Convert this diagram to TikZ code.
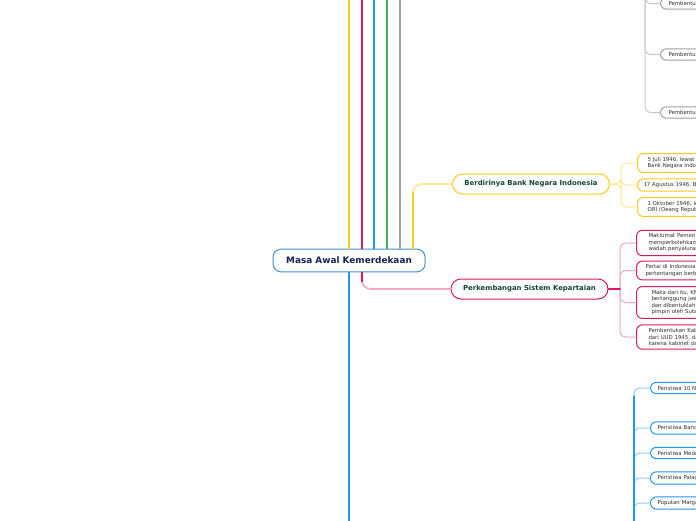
\documentclass[tikz,border=0pt]{standalone}
\usepackage{fontspec}
\setmainfont{DejaVu Sans}
\usetikzlibrary{positioning}
\definecolor{yellowC}{RGB}{250,204,20}
\definecolor{yellowL}{RGB}{253,232,150}
\definecolor{crimsonC}{RGB}{216,27,96}
\definecolor{pinkL}{RGB}{244,166,194}
\definecolor{blueC}{RGB}{33,150,243}
\definecolor{blueL}{RGB}{150,204,245}
\definecolor{greenC}{RGB}{76,175,80}
\definecolor{grayC}{RGB}{158,158,158}
\definecolor{grayL}{RGB}{200,200,200}
\definecolor{mainblue}{RGB}{66,145,210}
\definecolor{navytext}{RGB}{20,35,80}
\definecolor{greentext}{RGB}{20,70,50}
\definecolor{leaftext}{RGB}{50,50,50}
\tikzset{
	mainbox/.style={draw=mainblue, line width=1pt, rounded corners=8pt, fill=white, minimum width=152pt, minimum height=22.7pt, font=\fontsize{8.9}{10}\selectfont\bfseries, text=navytext},
	topicbox/.style={draw=#1, line width=1pt, rounded corners=10pt, fill=white, minimum width=157pt, minimum height=20pt, font=\fontsize{6.9}{8}\selectfont\bfseries, text=greentext},
	leafbox/.style={draw=#1, line width=1pt, rounded corners=6pt, fill=white, anchor=west, text width=110pt, align=left, inner xsep=9pt, inner ysep=3.6pt, font=\fontsize{5.4}{6.5}\selectfont, text=leaftext},
	trunk/.style={draw=#1, line width=1.8pt},
	twig/.style={draw=#1, line width=1pt, rounded corners=6pt}
}
\begin{document}
\begin{tikzpicture}[x=1pt, y=-1pt, line join=round, line cap=round]
	\useasboundingbox (0,0) rectangle (696,520);
	\clip (0,0) rectangle (696,520);
	\node[mainbox] (main) at (349,260.5) {Masa Awal Kemerdekaan};
	\node[topicbox=yellowC] (bank) at (531,184) {Berdirinya Bank Negara Indonesia};
	\node[topicbox=crimsonC] (perk) at (529.5,289) {Perkembangan Sistem Kepartaian};
	\foreach \x/\c/\n in {349/yellowC/upA, 361.7/crimsonC/upB, 374/blueC/upC, 387/greenC/upD, 400/grayC/upE} {
		\coordinate (\n) at (\x,-5);
		\draw[trunk=\c] (main.north -| \n) -- (\n);
	}
	\coordinate (downA) at (349,530);
	\draw[trunk=blueC] (main.south -| downA) -- (downA);
	\coordinate (bankfoot) at (413,0);
	\draw[twig=yellowL, line width=1.6pt, rounded corners=9pt] (main.north -| bankfoot) |- (bank.west);
	\draw[trunk=yellowC] (main.north -| bankfoot) -- ++(0,-56);
	\coordinate (perkfoot) at (361.7,0);
	\draw[twig=pinkL, line width=1.6pt, rounded corners=9pt] (main.south -| perkfoot) |- (perk.west);
	\draw[trunk=crimsonC] (main.south -| perkfoot) -- ++(0,9);

	\node[leafbox=grayC, inner xsep=8pt] (gl1) at (660,3.5) {Pembentukan Kementerian};
	\node[leafbox=grayC, inner xsep=8pt] (gl2) at (660,54.5) {Pembentukan Komite Nasional};
	\node[leafbox=grayC, inner xsep=8pt] (gl3) at (660,112.5) {Pembentukan Badan Keamanan};
	\coordinate (grayspine) at (645,-10);
	\foreach \i in {1,2,3}
		\draw[twig=grayL] (grayspine) |- (gl\i.west);

	\node[leafbox=yellowC, inner xsep=10pt] (yl1) at (637,163) {5 Juli 1946, lewat Perpu\\Bank Negara Indonesia};
	\node[leafbox=yellowC, inner xsep=6pt] (yl2) at (637,185) {17 Agustus 1946, Bank};
	\node[leafbox=yellowC, inner xsep=10pt] (yl3) at (637,207) {1 Oktober 1946, lewat\\ORI (Oeang Republik};
	\coordinate (bankspine) at (621,184);
	\foreach \i in {1,2,3}
		\draw[twig=yellowL] (bank.east) -- (bankspine) |- (yl\i.west);

	\node[leafbox=crimsonC, inner xsep=12pt] (rl1) at (636,243) {Maklumat Pemerintah\\memperbolehkan\\wadah penyaluran};
	\node[leafbox=crimsonC, inner xsep=9pt] (rl2) at (636,270.5) {Partai di Indonesia\\pertentangan berbagai};
	\node[leafbox=crimsonC, inner xsep=15pt] (rl3) at (636,302.5) {Maka dari itu, KNIP\\bertanggung jawab\\dan dibentuklah\\pimpin oleh Sutan};
	\node[leafbox=crimsonC, inner xsep=12pt] (rl4) at (636,337) {Pembentukan Kabinet\\dari UUD 1945, dan\\karena kabinet dari};
	\coordinate (perkspine) at (620,289);
	\foreach \i in {1,2,3,4}
		\draw[twig=pinkL] (perkspine) |- (rl\i.west);
	\draw[twig=crimsonC, line width=1.6pt] (perk.east) -- (perkspine);

	\node[leafbox=blueC, inner xsep=7pt] (bl1) at (650,388) {Peristiwa 10 November};
	\node[leafbox=blueC, inner xsep=7pt] (bl2) at (650,428) {Peristiwa Bandung Lautan Api};
	\node[leafbox=blueC, inner xsep=7pt] (bl3) at (650,453) {Peristiwa Medan Area};
	\node[leafbox=blueC, inner xsep=7pt] (bl4) at (650,478) {Peristiwa Palagan Ambarawa};
	\node[leafbox=blueC, inner xsep=7pt] (bl5) at (650,503) {Puputan Margarana};
	\coordinate (bluespine) at (634,530);
	\foreach \i in {1,...,5}
		\draw[twig=blueL] (bluespine) |- (bl\i.west);
	\draw[trunk=blueC, line width=1.4pt] (bluespine) -- ++(0,-134);
\end{tikzpicture}
\end{document}
